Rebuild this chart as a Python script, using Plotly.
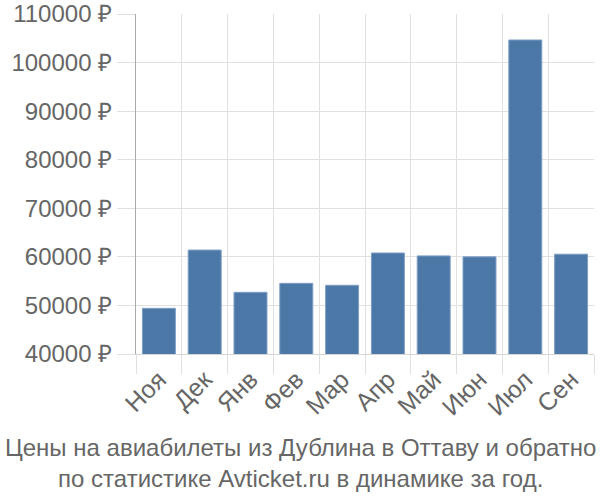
import plotly.graph_objects as go

months = ["Ноя", "Дек", "Янв", "Фев", "Мар", "Апр", "Май", "Июн", "Июл", "Сен"]
prices = [49400, 61400, 52700, 54550, 54150, 60800, 60200, 60000, 104650, 60550]
y_ticks = [40000, 50000, 60000, 70000, 80000, 90000, 100000, 110000]
y_tick_text = [f"{v} ₽" for v in y_ticks]
title_lines = ["Цены на авиабилеты из Дублина в Оттаву и обратно",
               "по статистике Avticket.ru в динамике за год."]

fig = go.Figure(go.Bar(
    x=months, y=prices,
    marker=dict(color="#4c78a8", line=dict(color="#7f9fc4", width=1)),
))

font_family = "Liberation Sans, Arial, sans-serif"
fig.update_layout(
    width=600, height=500,
    margin=dict(l=136, r=6, t=14, b=146),
    plot_bgcolor="white", paper_bgcolor="white",
    bargap=0.28,
    showlegend=False,
    font=dict(family=font_family, size=24, color="#666666"),
    xaxis=dict(
        type="category", tickson="boundaries", automargin=False,
        showgrid=True, gridcolor="#e0e0e0", gridwidth=1,
        ticks="outside", ticklen=19, tickcolor="#e0e0e0",
        tickangle=-45, tickfont=dict(size=25, color="#666666"),
        showline=True, linecolor="#d6d6d6", linewidth=1,
    ),
    yaxis=dict(
        range=[40000, 110000], tickvals=y_ticks, ticktext=y_tick_text,
        automargin=False,
        showgrid=True, gridcolor="#e0e0e0", gridwidth=1,
        ticks="outside", ticklen=18, tickcolor="#e0e0e0",
        tickfont=dict(size=24, color="#666666"),
        showline=True, linecolor="#aaaaaa", linewidth=1,
        zeroline=False,
    ),
    annotations=[dict(
        text="<br>".join(title_lines), xref="paper", yref="paper",
        x=(300 - 136) / 458, y=-0.229, xanchor="center", yanchor="top",
        showarrow=False,
        font=dict(size=24, color="#666666", family=font_family),
    )],
)

fig.write_html("out.html")
